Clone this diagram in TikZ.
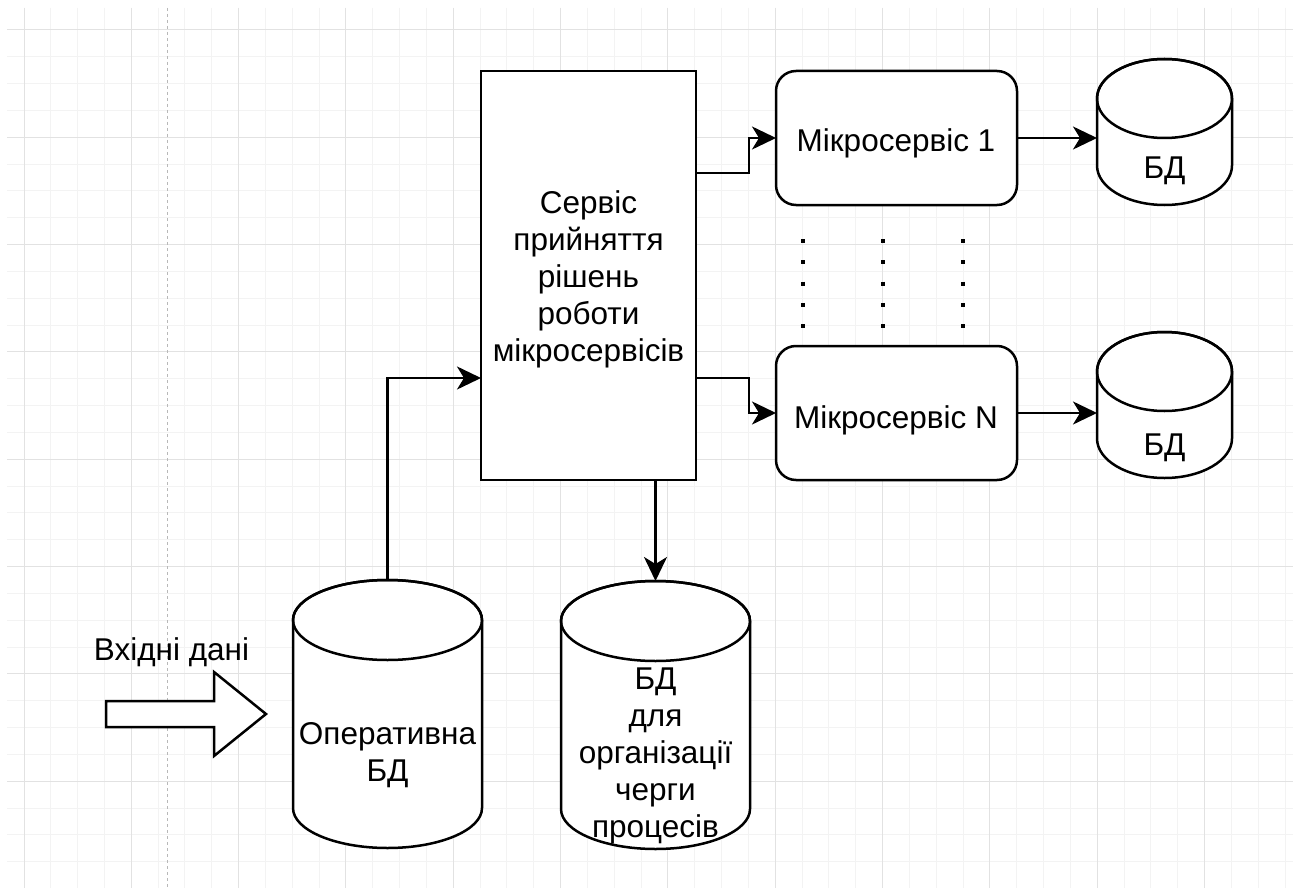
\documentclass[tikz,border=0pt]{standalone}
\usepackage{fontspec}
\setmainfont{Liberation Sans}
\usetikzlibrary{arrows.meta,calc}

\definecolor{gridminor}{HTML}{F3F3F3}
\definecolor{gridmajor}{HTML}{E2E2E2}
\definecolor{guideline}{HTML}{B8B8B8}

\tikzset{
  edge/.style={line width=2.5pt, draw=black},
  conn/.style={edge, line join=miter, -{Stealth[length=24pt,width=23pt,inset=7pt]}},
  block/.style={edge, fill=white, rectangle, inner sep=0pt, outer sep=0pt},
  roundbox/.style={block, rounded corners=20pt, minimum width=241pt, minimum height=134pt},
  lbl/.style={font=\fontsize{31.5}{37}\selectfont, align=center, inner sep=0pt, text=black},
  gridmin/.style={draw=gridminor, line width=1pt},
  gridmaj/.style={draw=gridmajor, line width=1pt},
  dotcol/.style={line width=4pt, dash pattern=on 4pt off 17.25pt},
}

% database cylinder: name, centre x, centre y, x radius, half height, ellipse y radius
\newcommand{\dbshape}[6]{%
  \node[inner sep=0pt, outer sep=0pt, minimum width={(2*#4)*1pt}, minimum height={(2*#5)*1pt}] (#1) at (#2,#3) {};
  \path[edge, fill=white] ({#2-#4},{#3-#5+#6}) -- ({#2-#4},{#3+#5-#6})
    arc[start angle=180, end angle=360, x radius=#4pt, y radius=#6pt]
    -- ({#2+#4},{#3-#5+#6})
    arc[start angle=0, end angle=180, x radius=#4pt, y radius=#6pt] -- cycle;
  \draw[edge] (#2,{#3-#5+#6}) ellipse[x radius=#4pt, y radius=#6pt];
}

\begin{document}
\begin{tikzpicture}[x=1pt, y=-1pt]
\useasboundingbox (0,0) rectangle (1298,888);
\fill[white] (0,0) rectangle (1298,888);

% background grid
\foreach \k in {0,...,47} \draw[gridmin] ({24+26.83*\k},8) -- ({24+26.83*\k},888);
\foreach \k in {0,...,31} \draw[gridmin] (7,{30+26.83*\k}) -- (1293,{30+26.83*\k});
\foreach \k in {0,4,...,44} \draw[gridmaj] ({24+26.83*\k},8) -- ({24+26.83*\k},888);
\foreach \k in {0,4,...,28} \draw[gridmaj] (7,{30+26.83*\k}) -- (1293,{30+26.83*\k});
\draw[guideline, line width=0.9pt, dash pattern=on 3pt off 3pt] (167,8) -- (167,888);

% decision service
\node[block, minimum width=215pt, minimum height=409pt] (main) at (588.5,275.5) {};
\node[lbl] (maintext) at (588.5,279) {Сервіс\\прийняття\\рішень\\роботи\\мікросервісів};

% microservices
\node[roundbox] (ms1) at (896.5,138) {};
\node[lbl, anchor=base] (ms1text) at (896,151) {Мікросервіс 1};
\node[roundbox] (msN) at (896.5,413) {};
\node[lbl, anchor=base] (msNtext) at (896,428) {Мікросервіс N};

% ellipsis between the microservices
\foreach \x in {803,883,963} \draw[dotcol] (\x,239) -- (\x,329);

% databases
\dbshape{db1}{1164.5}{132}{67.5}{73}{39.5}
\node[lbl, anchor=base] (db1text) at (1164.5,178) {БД};
\dbshape{dbN}{1164.5}{405}{67.5}{73}{39.5}
\node[lbl, anchor=base] (dbNtext) at (1164.5,455) {БД};
\dbshape{opdb}{387.5}{714}{94.5}{134}{40}
\node[lbl] (opdbtext) at (387.5,755) {Оперативна\\БД};
\dbshape{qdb}{655.5}{715}{94.5}{134}{40}
\node[lbl] (qdbtext) at (655.5,755.5) {БД\\для\\організації\\черги\\процесів};

% input data
\path[edge, fill=white, line join=miter] (106,701) -- (214,701) -- (214,672) -- (266,714)
  -- (214,756) -- (214,727) -- (106,727) -- cycle;
\node[lbl, anchor=base] (inputtext) at (171.5,660) {Вхідні дані};

% connectors
\draw[conn] (opdb.north) |- (main.west |- 0,378);
\draw[conn] (main.east |- 0,173) -- ++(53,0) |- (ms1.west);
\draw[conn] (main.east |- 0,378) -- ++(53,0) |- (msN.west);
\draw[conn] (qdb.north |- main.south) -- (qdb.north);
\draw[conn] (ms1.east) -- (ms1.east -| db1.west);
\draw[conn] (msN.east) -- (msN.east -| dbN.west);
\end{tikzpicture}
\end{document}
